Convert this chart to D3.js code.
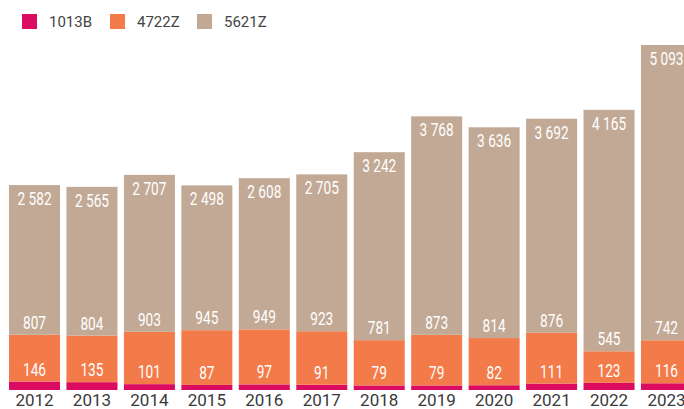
<!DOCTYPE html>
<html>
<head>
<meta charset="utf-8">
<script src="https://cdn.jsdelivr.net/npm/d3@7"></script>
<style>
  body { margin: 0; background: #fff; }
  svg { display: block; }
</style>
</head>
<body>
<div id="chart"></div>
<script>
var years = ["2012", "2013", "2014", "2015", "2016", "2017", "2018", "2019", "2020", "2021", "2022", "2023"];
var s1013B = [146, 135, 101, 87, 97, 91, 79, 79, 82, 111, 123, 116];
var s4722Z = [807, 804, 903, 945, 949, 923, 781, 873, 814, 876, 545, 742];
var s5621Z = [2582, 2565, 2707, 2498, 2608, 2705, 3242, 3768, 3636, 3692, 4165, 5093];
var seriesNames = ["1013B", "4722Z", "5621Z"];
var colors = ["#db0b61", "#f37b4a", "#c2a995"];

var svgWidth = 684;
var svgHeight = 409;

var svg = d3.select("#chart")
  .append("svg")
  .attr("width", svgWidth)
  .attr("height", svgHeight);

var rows = years.map(function(y, i) {
  return { year: y, "1013B": s1013B[i], "4722Z": s4722Z[i], "5621Z": s5621Z[i] };
});

var stacked = d3.stack().keys(seriesNames)(rows);

var x = d3.scaleBand()
  .domain(years)
  .range([9, 692])
  .paddingInner(0.112)
  .paddingOuter(0);

var y = d3.scaleLinear()
  .domain([0, d3.max(stacked[2], d => d[1])])
  .range([390, 45]);

var fmt = function(v) { return d3.format(",")(v).replace(",", " "); };

var barsGroup = svg.append("g");
var labelsGroup = svg.append("g");

stacked.forEach(function(layer, li) {
  barsGroup.append("g").selectAll("rect")
    .data(layer)
    .enter()
    .append("rect")
    .attr("x", d => x(d.data.year))
    .attr("width", x.bandwidth())
    .attr("y", d => y(d[1]))
    .attr("height", d => y(d[0]) - y(d[1]))
    .attr("fill", colors[li]);
});

// labels drawn after all bars: top series inside the bar, others just above their segment
stacked.forEach(function(layer, li) {
  labelsGroup.append("g").selectAll("text")
    .data(layer)
    .enter()
    .append("text")
    .attr("transform", function(d) {
      var cx = x(d.data.year) + x.bandwidth() / 2;
      var ty = li === 2 ? y(d[1]) + 20 : y(d[1]) - 6;
      return "translate(" + cx + "," + ty + ") scale(0.76,1)";
    })
    .attr("text-anchor", "middle")
    .attr("fill", "#fff")
    .style("font-family", "Roboto, sans-serif")
    .style("font-size", "18px")
    .text(d => fmt(d.data[seriesNames[li]]));
});

// year axis
svg.append("g")
  .selectAll("text")
  .data(years)
  .enter()
  .append("text")
  .attr("x", d => x(d) + x.bandwidth() / 2)
  .attr("y", 406)
  .attr("text-anchor", "middle")
  .attr("fill", "#3a3a3a")
  .style("font-family", "Roboto, sans-serif")
  .style("font-size", "17px")
  .text(d => d);

// legend
var legendX = [22, 110, 197];
var legend = svg.append("g");
seriesNames.forEach(function(name, i) {
  legend.append("rect")
    .attr("x", legendX[i])
    .attr("y", 14)
    .attr("width", 15)
    .attr("height", 15)
    .attr("fill", colors[i]);
  legend.append("text")
    .attr("x", legendX[i] + 27)
    .attr("y", 27)
    .attr("fill", "#444")
    .style("font-family", "Roboto, sans-serif")
    .style("font-size", "15px")
    .text(name);
});
</script>
</body>
</html>
